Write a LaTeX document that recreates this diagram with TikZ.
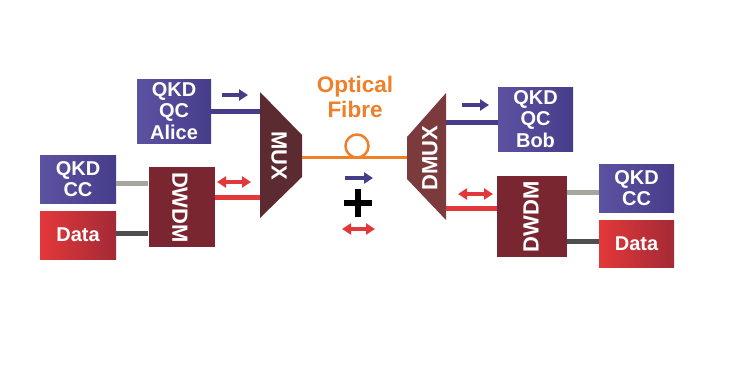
\documentclass[tikz,border=0pt]{standalone}
\usepackage{fontspec}
\setmainfont{Liberation Sans}
\usetikzlibrary{arrows.meta}
\definecolor{qblue}{HTML}{463D8A}
\definecolor{qblueL}{HTML}{5C52A2}
\definecolor{qred}{HTML}{E3383A}
\definecolor{qredD}{HTML}{A32A36}
\definecolor{dwdmc}{HTML}{7A2630}
\definecolor{muxc}{HTML}{5C2A31}
\definecolor{dmuxc}{HTML}{7B3B3D}
\definecolor{fibre}{HTML}{F07F2A}
\definecolor{lgrey}{HTML}{A6A69E}
\definecolor{dgrey}{HTML}{4E4E4E}
\tikzset{
  bluebox/.style={rectangle, inner sep=0pt, left color=qblueL, right color=qblue, text=white, font=\bfseries\fontsize{20}{21.5}\selectfont, align=center},
  redbox/.style={rectangle, inner sep=0pt, left color=qred, middle color=qred, right color=qredD, text=white, font=\bfseries\fontsize{20}{21.5}\selectfont, align=center},
  dwdmbox/.style={rectangle, inner sep=0pt, fill=dwdmc, minimum width=66pt, minimum height=80pt},
  rotlabel/.style={text=white, font=\bfseries\fontsize{22}{24}\selectfont},
  bluewire/.style={draw=qblue, line width=5pt},
  redwire/.style={draw=qred, line width=5pt},
  lgwire/.style={draw=lgrey, line width=5pt},
  dgwire/.style={draw=dgrey, line width=5pt},
  bluearrow/.style={draw=qblue, line width=4pt, -{Triangle[length=9pt,width=11pt]}},
  redarrow/.style={draw=qred, line width=4pt, {Triangle[length=9pt,width=11pt]}-{Triangle[length=9pt,width=11pt]}},
}
\begin{document}
\begin{tikzpicture}[x=1pt,y=-1pt]
\useasboundingbox (0,0) rectangle (738,378);
% boxes
\node[bluebox, minimum width=74pt, minimum height=64pt] (alice) at (174,111) {QKD\\QC\\Alice};
\node[bluebox, minimum width=76pt, minimum height=48pt] (ccL) at (78,179) {QKD\\CC};
\node[redbox, minimum width=76pt, minimum height=48pt] (dataL) at (78,235) {Data};
\node[dwdmbox] (dwdmL) at (181.5,207) {};
\node[rotlabel, rotate=-90] (dwdmLt) at (180,207.5) {DWDM};
\node[bluebox, minimum width=75pt, minimum height=64pt] (bob) at (535.5,119) {QKD\\QC\\Bob};
\node[dwdmbox, minimum width=70pt, minimum height=81pt] (dwdmR) at (532,216.5) {};
\node[rotlabel, rotate=90] (dwdmRt) at (531,217) {DWDM};
\node[bluebox, minimum width=75pt, minimum height=48pt] (ccR) at (636.5,188) {QKD\\CC};
\node[redbox, minimum width=75pt, minimum height=47pt] (dataR) at (636.5,243.5) {Data};
% MUX / DMUX
\fill[muxc] (260,92) -- (302,135) -- (302,177) -- (260,218) -- cycle;
\node[rotlabel, rotate=-90] (muxt) at (279,156) {MUX};
\fill[dmuxc] (446,93) -- (446,220) -- (407,179) -- (407,137) -- cycle;
\node[rotlabel, rotate=90] (dmuxt) at (430,158) {DMUX};
\coordinate (muxA) at (260,111);
\coordinate (muxR) at (260,197);
\coordinate (muxO) at (302,157);
\coordinate (dmuxO) at (407,157);
\coordinate (dmuxB) at (446,122);
\coordinate (dmuxR) at (446,208);
% wires
\draw[bluewire] (alice.east) -- (muxA);
\draw[redwire] (dwdmL.east |- muxR) -- (muxR);
\draw[lgwire] (ccL.east |- 0,183) -- (dwdmL.west |- 0,183);
\draw[dgwire] (dataL.east |- 0,233) -- (dwdmL.west |- 0,233);
\draw[bluewire] (dmuxB) -- (bob.west |- dmuxB);
\draw[redwire] (dmuxR) -- (dwdmR.west |- dmuxR);
\draw[lgwire] (dwdmR.east |- 0,192) -- (ccR.west |- 0,192);
\draw[dgwire] (dwdmR.east |- 0,241) -- (dataR.west |- 0,241);
% fibre
\draw[fibre, line width=3pt] (muxO) -- (dmuxO);
\node[draw=fibre, line width=2.5pt, circle, minimum size=23pt, inner sep=0pt] (loop) at (357,146) {};
\node[text=fibre, font=\bfseries\fontsize{22.5}{25}\selectfont, align=center] (ftext) at (355,97) {Optical\\Fibre};
% arrows
\coordinate (a1s) at (222,95); \coordinate (a1e) at (248,95);
\draw[bluearrow] (a1s) -- (a1e);
\coordinate (a2s) at (217,182); \coordinate (a2e) at (251,182);
\draw[redarrow] (a2s) -- (a2e);
\coordinate (a3s) at (345,178); \coordinate (a3e) at (373,178);
\draw[bluearrow] (a3s) -- (a3e);
\coordinate (a4s) at (342,229); \coordinate (a4e) at (375,229);
\draw[redarrow] (a4s) -- (a4e);
\coordinate (a5s) at (462,105); \coordinate (a5e) at (489,105);
\draw[bluearrow] (a5s) -- (a5e);
\coordinate (a6s) at (458,194); \coordinate (a6e) at (493,194);
\draw[redarrow] (a6s) -- (a6e);
% plus
\coordinate (p1) at (344,203); \coordinate (p2) at (372,203);
\coordinate (p3) at (358,189); \coordinate (p4) at (358,217);
\draw[black, line width=6.5pt] (p1) -- (p2) (p3) -- (p4);
\end{tikzpicture}
\end{document}
